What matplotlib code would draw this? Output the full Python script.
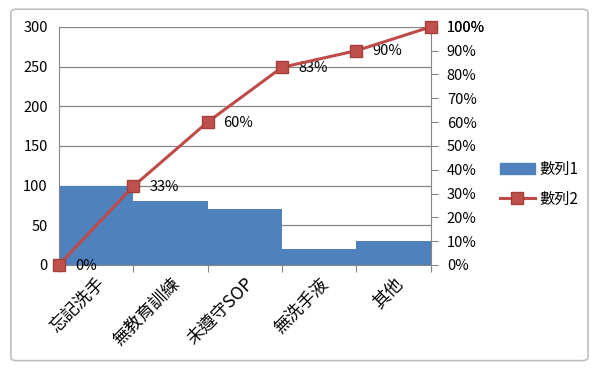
import matplotlib.pyplot as plt
import numpy as np
from matplotlib.patches import FancyBboxPatch
from matplotlib.lines import Line2D
from matplotlib.patches import Patch

plt.rcParams['font.family'] = ['Noto Sans CJK TC', 'DejaVu Sans']

# 資料
categories = ['忘記洗手', '無教育訓練', '未遵守SOP', '無洗手液', '其他']
counts = [100, 80, 70, 20, 30]
cum_pct = [0, 33, 60, 83, 90, 100]
cum_labels = ['0%', '33%', '60%', '83%', '90%', '100%']

BAR_COLOR = '#4F81BD'
LINE_COLOR = '#BE4B48'
GRID = '#868686'

fig = plt.figure(figsize=(6, 3.68), dpi=100)

# 外框 (Excel 圖表區)
frame = FancyBboxPatch((0.018, 0.02), 0.962, 0.955, boxstyle='round,pad=0,rounding_size=0.01',
                       transform=fig.transFigure, fill=False, edgecolor='#BFBFBF', linewidth=1.2)
fig.patches.append(frame)

ax = fig.add_axes([0.098, 0.280, 0.620, 0.647])
x = np.arange(len(categories))
ax.bar(x + 0.5, counts, width=1.0, color=BAR_COLOR, zorder=2)
ax.set_xlim(0, len(categories))
ax.set_ylim(0, 300)
ax.set_yticks(range(0, 301, 50))
ax.yaxis.grid(True, color=GRID, linewidth=0.9, zorder=0)
ax.set_axisbelow(True)
for s in ['top', 'right']:
    ax.spines[s].set_visible(False)
ax.spines['left'].set_color(GRID)
ax.spines['bottom'].set_color(GRID)
ax.tick_params(axis='y', length=0, labelsize=10.5, pad=8)
ax.set_xticks(range(0, len(categories) + 1))
ax.set_xticklabels([])
ax.tick_params(axis='x', length=5, color=GRID, direction='out')
for i, c in enumerate(categories):
    ax.text(i + 0.5, -12, c, rotation=45, ha='right', va='top', rotation_mode='anchor',
            fontsize=12.5, transform=ax.transData)

ax2 = ax.twinx()
ax2.set_ylim(0, 100)
ax2.set_yticks(range(0, 101, 10))
ax2.set_yticklabels([f'{v}%' for v in range(0, 101, 10)])
ax2.tick_params(axis='y', length=5, color=GRID, labelsize=10.5, pad=6.5)
for s in ['top', 'left', 'bottom']:
    ax2.spines[s].set_visible(False)
ax2.spines['right'].set_color(GRID)
ax2.plot(range(len(cum_pct)), cum_pct, color=LINE_COLOR, linewidth=2.2, marker='s',
         markersize=8, markerfacecolor='#C0504D', markeredgecolor='#A33E3B', clip_on=False, zorder=5)
for xi, (v, lab) in enumerate(zip(cum_pct, cum_labels)):
    ax2.annotate(lab, (xi, v), xytext=(11.5, -0.5), textcoords='offset points', va='center', ha='left',
                 fontsize=10.5, annotation_clip=False)

handles = [Patch(facecolor=BAR_COLOR, edgecolor=BAR_COLOR),
           Line2D([0], [0], color=LINE_COLOR, linewidth=2.2, marker='s', markersize=8,
                  markerfacecolor='#C0504D', markeredgecolor='#A33E3B')]
fig.legend(handles, ['數列1', '數列2'], loc='center left', bbox_to_anchor=(0.81, 0.50),
           frameon=False, fontsize=11, handlelength=2.3, labelspacing=0.85, handletextpad=0.3)

fig.savefig('out.png', dpi=100)
